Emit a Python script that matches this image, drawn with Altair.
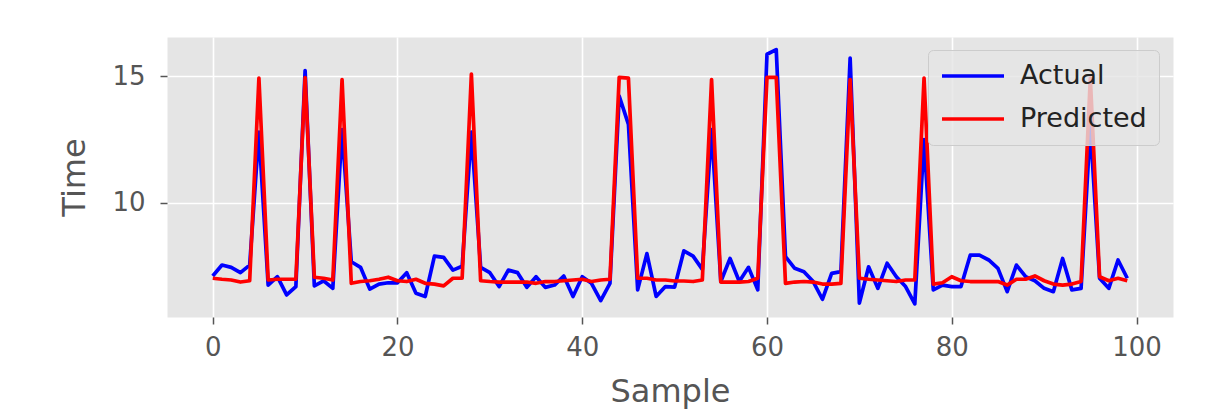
import altair as alt
import pandas as pd

samples = list(range(100))

actual = [7.12, 7.55, 7.46, 7.25, 7.55, 12.8, 6.76, 7.09, 6.37, 6.70,
          15.22, 6.73, 6.93, 6.63, 12.9, 7.68, 7.46, 6.60, 6.80, 6.85,
          6.85, 7.25, 6.44, 6.31, 7.90, 7.85, 7.35, 7.50, 12.8, 7.46,
          7.25, 6.70, 7.35, 7.25, 6.67, 7.09, 6.67, 6.76, 7.12, 6.31,
          7.09, 6.83, 6.15, 6.83, 14.22, 13.1, 6.57, 8.00, 6.31, 6.70,
          6.68, 8.11, 7.90, 7.38, 12.9, 6.90, 7.81, 6.90, 7.46, 6.57,
          15.87, 16.05, 7.88, 7.42, 7.29, 6.90, 6.20, 7.22, 7.29, 15.72,
          6.05, 7.48, 6.63, 7.62, 7.09, 6.70, 6.02, 12.5, 6.57, 6.76,
          6.70, 6.70, 7.94, 7.94, 7.75, 7.42, 6.50, 7.55, 7.09, 6.93,
          6.63, 6.50, 7.81, 6.57, 6.63, 13.0, 7.03, 6.63, 7.75, 7.03]

predicted = [7.03, 6.99, 6.96, 6.88, 6.93, 14.93, 6.96, 6.99, 6.99, 6.99,
             14.95, 7.07, 7.03, 6.96, 14.87, 6.83, 6.90, 6.93, 6.99, 7.07,
             6.93, 6.90, 6.99, 6.83, 6.80, 6.73, 7.03, 7.03, 15.09, 6.93,
             6.90, 6.88, 6.88, 6.88, 6.88, 6.83, 6.90, 6.90, 6.93, 6.96,
             6.99, 6.90, 6.96, 6.99, 14.96, 14.93, 7.03, 7.03, 6.96, 6.96,
             6.92, 6.92, 6.90, 6.96, 14.87, 6.88, 6.88, 6.88, 6.90, 7.03,
             14.96, 14.96, 6.83, 6.88, 6.90, 6.88, 6.80, 6.80, 6.83, 14.87,
             7.03, 6.99, 6.96, 6.93, 6.90, 6.96, 6.96, 14.93, 6.80, 6.85,
             7.09, 6.93, 6.90, 6.90, 6.90, 6.90, 6.76, 6.99, 6.99, 7.12,
             6.93, 6.80, 6.76, 6.80, 6.90, 14.93, 7.09, 6.93, 7.03, 6.93]

series_names = ["Actual", "Predicted"]
series_colors = ["#0000FF", "#FF0000"]
x_ticks = [0, 20, 40, 60, 80, 100]
y_ticks = [10, 15]

rows = []
for name, vals in zip(series_names, [actual, predicted]):
    for s, v in zip(samples, vals):
        rows.append({"Sample": s, "Time": v, "Series": name})
df = pd.DataFrame(rows)

FONT = "DejaVu Sans"
GRAY = "#555555"

chart = alt.Chart(df).mark_line(strokeWidth=3.7, strokeJoin="round").encode(
    x=alt.X("Sample:Q",
            scale=alt.Scale(domain=[-4.95, 103.95], nice=False, zero=False),
            axis=alt.Axis(values=x_ticks, title="Sample", format="d")),
    y=alt.Y("Time:Q",
            scale=alt.Scale(domain=[5.5, 16.55], nice=False, zero=False),
            axis=alt.Axis(values=y_ticks, title="Time", format="d")),
    color=alt.Color("Series:N",
                    scale=alt.Scale(domain=series_names, range=series_colors),
                    legend=alt.Legend(title=None, orient="none", legendX=761, legendY=13,
                                      symbolType="stroke", symbolStrokeWidth=3.7,
                                      symbolSize=3844, clipHeight=28,
                                      labelFontSize=27, labelFont=FONT,
                                      labelColor="#222222", labelOffset=14, rowPadding=15,
                                      padding=12, fillColor="rgba(229,229,229,0.8)",
                                      strokeColor="#CCCCCC", cornerRadius=5)),
    order=alt.Order("Sample:Q"),
).properties(
    width=1006,
    height=280,
    autosize=alt.AutoSizeParams(type="none"),
    padding={"left": 159, "top": 29, "right": 29, "bottom": 100},
    background="white",
).configure_view(
    fill="#E5E5E5", stroke="transparent"
).configure_axis(
    domain=False,
    grid=True, gridColor="white", gridWidth=1.6,
    tickColor=GRAY, tickSize=7, tickWidth=1.5,
    labelFont=FONT, labelFontSize=26, labelColor=GRAY,
    titleFont=FONT, titleFontSize=32, titleColor=GRAY, titleFontWeight="normal",
).configure_axisX(
    labelPadding=10, titlePadding=16,
).configure_axisY(
    labelPadding=15, titlePadding=20,
)

chart.save("out.html", embed_options={"renderer": "svg", "actions": False})
